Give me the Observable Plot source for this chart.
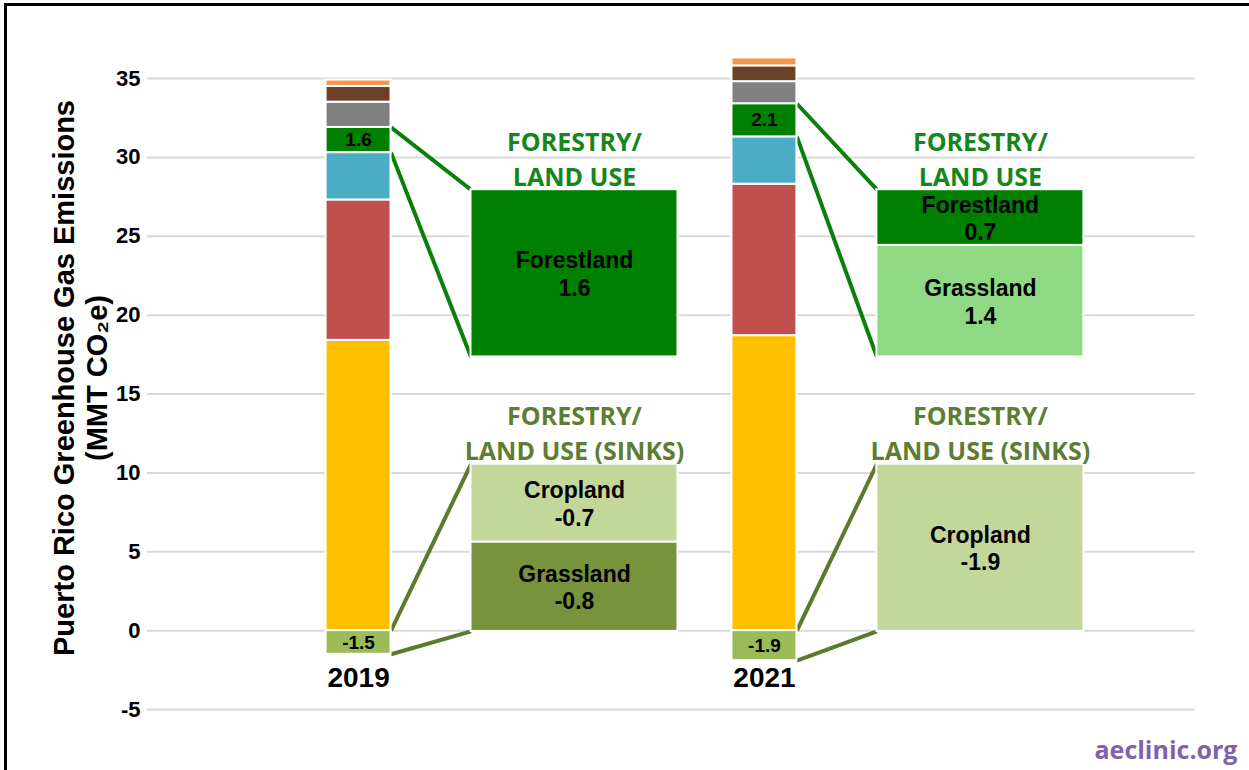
<!DOCTYPE html>
<html><head><meta charset="utf-8">
<script src="https://cdn.jsdelivr.net/npm/d3@7"></script>
<script src="https://cdn.jsdelivr.net/npm/@observablehq/plot@0.6"></script>
<style>
html,body{margin:0;padding:0;background:#fff;}
#wrap{position:relative;width:1249px;height:770px;overflow:hidden;}
#frame{position:absolute;left:4px;top:3px;width:1300px;height:800px;border-top:3px solid #000;border-left:3px solid #000;box-sizing:border-box;pointer-events:none;}
#chart{position:absolute;left:0;top:0;}
</style></head><body>
<div id="wrap"><div id="chart"></div><div id="frame"></div></div>
<script>
// ---------- data ----------
const years = ["2019", "2021"];
const sectors = ["Electricity", "Transportation", "Industry", "Forestry/Land use", "Waste", "Agriculture", "Other"];
const sectorColors = ["#FFC000", "#C0504D", "#4BACC6", "#008000", "#808080", "#6B4226", "#F79646"];
const emissions2019 = [18.4, 8.9, 3.0, 1.6, 1.6, 1.0, 0.4];
const emissions2021 = [18.7, 9.6, 3.0, 2.1, 1.4, 1.0, 0.5];
const sinkValues = [-1.5, -1.9];
const sinkColor = "#9BBB59";

const forestryNames2019 = ["Forestland"];
const forestryValues2019 = [1.6];
const forestryColors2019 = ["#008000"];
const forestryNames2021 = ["Forestland", "Grassland"];
const forestryValues2021 = [0.7, 1.4];
const forestryColors2021 = ["#008000", "#8FD984"];

const sinkNames2019 = ["Cropland", "Grassland"];
const sinkDetail2019 = [-0.7, -0.8];
const sinkColors2019 = ["#C4D79B", "#77933C"];
const sinkNames2021 = ["Cropland"];
const sinkDetail2021 = [-1.9];
const sinkColors2021 = ["#C4D79B"];

const upperHeading = "FORESTRY/\nLAND USE";
const lowerHeading = "FORESTRY/\nLAND USE (SINKS)";
const yTicks = [-5, 0, 5, 10, 15, 20, 25, 30, 35];
const yTitle = "Puerto Rico Greenhouse Gas Emissions\n(MMT CO\u2082e)";
const credit = "aeclinic.org";

// ---------- layout ----------
const BAR_HALF = 0.08, BOX_OFF = 0.532, BOX_HALF = 0.255;
const BOX_H = 10.6, UP_BASE = 17.35, LOW_BASE = -0.05;
const FORESTRY = sectors[3];

// ---------- derived tables ----------
const emissions = [emissions2019, emissions2021];
const barRows = [];
emissions.forEach((vals, i) => {
  let y0 = 0;
  vals.forEach((v, k) => {
    barRows.push({i, sector: sectors[k], y1: y0, y2: y0 + v, v, fill: sectorColors[k]});
    y0 += v;
  });
});
sinkValues.forEach((v, i) => barRows.push({i, sector: "Sinks", y1: 0, y2: v, v, fill: sinkColor}));

function boxRows(names, vals, colors, i, base) {
  const total = d3.sum(vals, Math.abs);
  let top = base + BOX_H;
  return names.map((n, k) => {
    const h = Math.abs(vals[k]) / total * BOX_H;
    const r = {i, name: n, v: vals[k], y2: top, y1: top - h, fill: colors[k]};
    top -= h;
    return r;
  });
}
const detailRows = [
  ...boxRows(forestryNames2019, forestryValues2019, forestryColors2019, 0, UP_BASE),
  ...boxRows(forestryNames2021, forestryValues2021, forestryColors2021, 1, UP_BASE),
  ...boxRows(sinkNames2019, sinkDetail2019, sinkColors2019, 0, LOW_BASE),
  ...boxRows(sinkNames2021, sinkDetail2021, sinkColors2021, 1, LOW_BASE)
];

const upperLinks = [], lowerLinks = [];
years.forEach((yr, i) => {
  const seg = barRows.find(d => d.i === i && d.sector === FORESTRY);
  upperLinks.push({x1: i + BAR_HALF, y1: seg.y2, x2: i + BOX_OFF - BOX_HALF, y2: UP_BASE + BOX_H});
  upperLinks.push({x1: i + BAR_HALF, y1: seg.y1, x2: i + BOX_OFF - BOX_HALF, y2: UP_BASE});
  lowerLinks.push({x1: i + BAR_HALF, y1: 0, x2: i + BOX_OFF - BOX_HALF, y2: LOW_BASE + BOX_H});
  lowerLinks.push({x1: i + BAR_HALF, y1: sinkValues[i], x2: i + BOX_OFF - BOX_HALF, y2: LOW_BASE});
});

const headingRows = years.flatMap((yr, i) => [
  {i, y: UP_BASE + BOX_H, text: upperHeading, fill: "#15861B"},
  {i, y: LOW_BASE + BOX_H, text: lowerHeading, fill: "#5E7D32"}
]);

const bold = "bold";
const chart = Plot.plot({
  width: 1249, height: 770,
  marginTop: 78, marginBottom: 61, marginLeft: 147, marginRight: 54,
  x: {domain: [-0.52, 2.062], axis: null},
  y: {domain: [-5, 35], axis: null},
  color: {type: "identity"},
  style: {background: "transparent", fontFamily: "'Liberation Sans', Arial, sans-serif", color: "#000"},
  marks: [
    Plot.ruleY(yTicks, {stroke: "#D9D9D9", strokeWidth: 2}),
    Plot.axisY(yTicks, {tickSize: 0, tickPadding: 7, fontSize: 22, fontWeight: bold, label: null, tickFormat: d => String(d)}),
    Plot.text([yTitle], {frameAnchor: "left", rotate: -90, dx: -68, dy: -16, textAnchor: "middle", lineAnchor: "middle",
      fontSize: 29, fontWeight: bold, lineHeight: 1.15, text: d => d, fill: "#000"}),
    Plot.link(upperLinks, {x1: "x1", y1: "y1", x2: "x2", y2: "y2", stroke: "#0A7F0A", strokeWidth: 4}),
    Plot.link(lowerLinks, {x1: "x1", y1: "y1", x2: "x2", y2: "y2", stroke: "#5B7A2E", strokeWidth: 4}),
    Plot.rect(barRows, {x1: d => d.i - BAR_HALF, x2: d => d.i + BAR_HALF, y1: "y1", y2: "y2", fill: "fill", stroke: "white", strokeWidth: 2}),
    Plot.text(barRows.filter(d => d.sector === FORESTRY || d.sector === "Sinks"), {
      x: "i", y: d => (d.y1 + d.y2) / 2, text: d => d.v.toFixed(1), fontSize: 19, fontWeight: bold, fill: "#000"}),
    Plot.rect(detailRows, {x1: d => d.i + BOX_OFF - BOX_HALF, x2: d => d.i + BOX_OFF + BOX_HALF, y1: "y1", y2: "y2", fill: "fill", stroke: "white", strokeWidth: 2}),
    Plot.text(detailRows, {x: d => d.i + BOX_OFF, y: d => (d.y1 + d.y2) / 2, text: d => d.name + "\n" + d.v.toFixed(1),
      fontSize: 23, fontWeight: bold, lineHeight: 1.2, fill: "#000"}),
    Plot.text(headingRows, {x: d => d.i + BOX_OFF, y: "y", text: "text", fill: "fill", lineAnchor: "bottom", dy: -4,
      fontSize: 25, lineHeight: 1.4, fontFamily: "'Open Sans', sans-serif", fontWeight: 700}),
    Plot.text(years, {x: (d, i) => i, y: () => 0, dy: 47, text: d => d, fontSize: 28, fontWeight: bold, fill: "#000"}),
    Plot.text([credit], {frameAnchor: "bottom-right", dx: 42, dy: 41, textAnchor: "end", lineAnchor: "middle", text: d => d,
      fill: "#7F62A8", fontSize: 25, fontWeight: 700, fontFamily: "'Open Sans', sans-serif"})
  ]
});
document.getElementById("chart").appendChild(chart);
</script>
</body></html>
